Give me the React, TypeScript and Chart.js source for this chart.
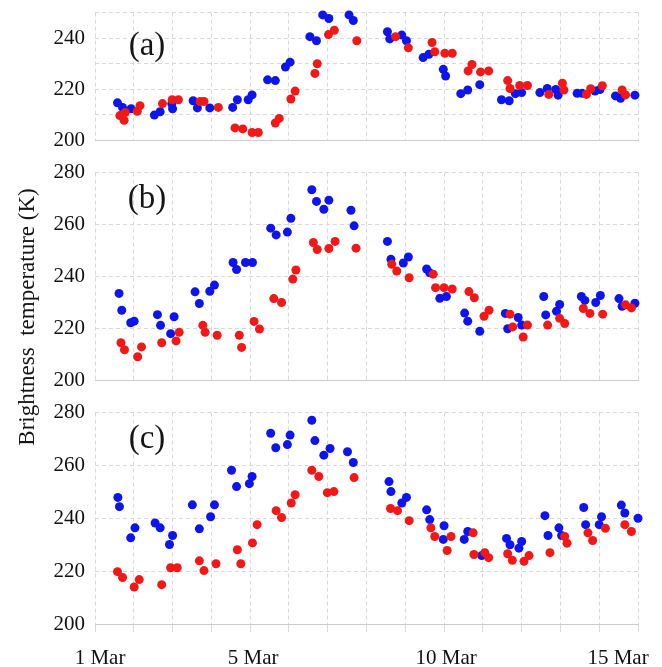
import React, { useEffect, useRef } from 'react';
import { Chart, registerables } from 'chart.js';

Chart.register(...registerables);

// ---------- data (day of March, brightness temperature K) ----------
const blueDaysA = [1.58, 1.71, 1.93, 2.53, 2.68, 2.98, 3.0, 3.53, 3.64, 3.96, 4.55, 4.67, 4.95, 5.05, 5.45, 5.65, 5.91, 6.03, 6.54, 6.71, 6.87, 7.03, 7.55, 7.66, 8.54, 8.6, 8.91, 9.03, 9.46, 9.61, 9.98, 10.04, 10.43, 10.61, 10.92, 11.48, 11.68, 11.84, 12.0, 12.47, 12.66, 12.88, 12.94, 13.43, 13.56, 13.89, 14.02, 14.42, 14.55, 14.92];
const blueTbA = [214.7, 212.9, 212.4, 209.9, 211.2, 214.3, 212.4, 215.5, 212.7, 212.7, 212.9, 215.9, 215.9, 217.8, 223.7, 223.4, 228.7, 230.6, 240.6, 239.0, 249.1, 247.7, 249.1, 246.9, 242.5, 239.7, 241.2, 239.0, 232.4, 233.7, 227.8, 225.2, 218.3, 219.7, 221.8, 215.9, 215.5, 218.3, 218.7, 218.7, 220.3, 219.9, 217.7, 218.4, 218.4, 219.3, 219.9, 217.4, 216.5, 217.7];
const redDaysA = [1.64, 1.75, 1.78, 2.09, 2.16, 2.74, 2.99, 3.15, 3.71, 3.81, 4.18, 4.61, 4.81, 5.05, 5.21, 5.65, 5.75, 6.05, 6.16, 6.67, 6.73, 7.02, 7.17, 7.75, 8.75, 9.08, 9.69, 9.76, 10.02, 10.21, 10.62, 10.72, 10.94, 11.15, 11.64, 11.7, 11.95, 12.15, 12.7, 13.05, 13.09, 13.67, 13.78, 14.08, 14.59, 14.68];
const redTbA = [209.7, 207.9, 210.9, 211.4, 213.6, 214.4, 215.9, 215.9, 215.2, 215.2, 212.9, 204.9, 204.5, 203.1, 203.1, 206.8, 208.6, 216.2, 219.3, 226.2, 230.0, 241.4, 243.1, 239.0, 240.6, 236.2, 238.3, 234.7, 234.1, 234.1, 227.2, 229.7, 226.8, 227.2, 223.4, 220.3, 221.5, 221.5, 218.0, 222.4, 219.7, 218.0, 220.2, 221.4, 219.7, 217.8];

const blueDaysB = [1.62, 1.69, 1.92, 2.01, 2.61, 2.69, 2.95, 3.04, 3.58, 3.69, 3.96, 4.08, 4.56, 4.65, 4.88, 5.06, 5.53, 5.67, 5.96, 6.05, 6.59, 6.71, 6.9, 7.03, 7.6, 7.68, 8.54, 8.63, 8.95, 9.08, 9.55, 9.63, 9.89, 10.06, 10.53, 10.61, 10.92, 11.58, 11.64, 11.91, 12.0, 12.57, 12.62, 12.9, 12.98, 13.54, 13.63, 13.91, 14.03, 14.51, 14.59, 14.92];
const blueTbB = [233.5, 227.0, 222.2, 222.8, 225.3, 221.2, 218.0, 224.5, 234.1, 229.6, 234.3, 236.7, 245.4, 242.7, 245.4, 245.4, 258.6, 256.0, 257.1, 262.4, 273.4, 268.9, 265.9, 269.4, 265.5, 259.5, 253.5, 246.6, 245.2, 247.5, 242.9, 241.4, 231.6, 232.3, 225.9, 222.8, 218.9, 225.8, 219.9, 224.2, 221.3, 232.3, 225.2, 226.6, 229.2, 232.3, 230.8, 230.0, 232.7, 231.5, 228.5, 229.7];
const redDaysB = [1.67, 1.76, 2.1, 2.2, 2.72, 3.09, 3.17, 3.78, 3.84, 4.15, 4.72, 4.78, 5.1, 5.24, 5.61, 5.81, 6.1, 6.18, 6.63, 6.73, 7.03, 7.19, 7.73, 8.65, 8.78, 9.1, 9.72, 9.78, 10.0, 10.21, 10.64, 10.78, 11.03, 11.16, 11.7, 11.77, 12.04, 12.15, 12.67, 12.98, 13.11, 13.59, 13.76, 14.09, 14.68, 14.83];
const redTbB = [214.5, 211.8, 209.1, 212.9, 214.5, 215.2, 218.5, 221.2, 218.5, 217.4, 217.4, 212.7, 222.7, 219.8, 231.5, 230.0, 239.0, 242.5, 253.1, 250.4, 250.8, 253.5, 250.9, 244.7, 242.1, 239.5, 240.9, 235.7, 235.7, 235.2, 234.2, 231.8, 224.7, 227.0, 225.5, 220.6, 216.7, 221.3, 221.3, 223.9, 221.9, 227.7, 225.8, 225.5, 229.1, 227.9];

const blueDaysC = [1.59, 1.63, 1.92, 2.03, 2.55, 2.68, 2.92, 3.0, 3.51, 3.69, 3.98, 4.08, 4.52, 4.65, 4.98, 5.05, 5.53, 5.66, 5.96, 6.03, 6.59, 6.67, 6.9, 7.06, 7.51, 7.66, 8.58, 8.63, 8.91, 9.03, 9.55, 9.63, 10.0, 9.98, 10.52, 10.61, 10.97, 11.61, 11.7, 11.93, 12.0, 12.6, 12.68, 12.96, 13.03, 13.6, 13.65, 14.0, 14.06, 14.57, 14.66, 15.0];
const blueTbC = [247.9, 244.4, 232.6, 236.4, 238.2, 236.4, 230.1, 233.5, 245.1, 236.0, 240.6, 245.1, 258.2, 252.0, 253.1, 255.8, 272.2, 266.7, 267.9, 271.5, 277.1, 269.4, 263.9, 266.4, 265.2, 261.1, 253.9, 250.1, 245.8, 247.9, 243.2, 239.5, 237.2, 232.0, 232.0, 235.0, 225.9, 232.4, 230.0, 228.7, 231.2, 241.0, 233.5, 236.4, 233.5, 244.1, 237.6, 237.6, 240.6, 245.0, 242.0, 240.0];
const redDaysC = [1.58, 1.71, 2.01, 2.14, 2.72, 2.95, 3.12, 3.69, 3.81, 4.12, 4.67, 4.76, 5.06, 5.18, 5.67, 5.81, 6.06, 6.16, 6.59, 6.77, 6.99, 7.16, 7.68, 8.62, 8.8, 9.1, 9.66, 9.76, 10.08, 10.18, 10.75, 10.77, 11.05, 11.15, 11.64, 11.76, 12.06, 12.19, 12.73, 13.11, 13.17, 13.71, 13.83, 14.16, 14.66, 14.83];
const redTbC = [219.8, 217.6, 214.0, 216.8, 214.9, 221.3, 221.3, 223.9, 220.2, 222.8, 228.1, 222.8, 230.7, 237.6, 242.9, 240.3, 245.8, 248.9, 258.2, 255.8, 249.7, 250.1, 255.4, 243.7, 242.9, 239.1, 236.4, 233.1, 227.8, 233.1, 234.5, 226.3, 227.0, 225.1, 226.6, 224.1, 223.7, 225.9, 227.0, 233.1, 230.6, 234.5, 231.6, 236.2, 237.6, 235.0];

const dateTicks = [1, 5, 10, 15];
const dateLabels = ['1 Mar', '5 Mar', '10 Mar', '15 Mar'];
const yTitle = 'Brightness  temperature (K)';

// ---------- styles ----------
const FONT = '"Liberation Serif", "Times New Roman", Times, serif';
const GRID = '#d9d9d9';
const AXIS = '#cccccc';
const BLUE = 'rgb(14,20,236)';
const RED = 'rgb(242,24,24)';
const labelShift = [5, 3, 2, -20];

type Spec = {
  tag: string;
  bx: number[]; by: number[]; rx: number[]; ry: number[];
  yMin: number; yMax: number; yStep: number; yLabelStep: number;
  top: number; height: number; xHeight: number; showX: boolean; tagDy: number;
};

const pts = (xs: number[], ys: number[]) => xs.map((x, i) => ({ x, y: ys[i] }));

function Panel({ spec }: { spec: Spec }) {
  const ref = useRef<HTMLCanvasElement>(null);
  useEffect(() => {
    const canvas = ref.current!;
    const tagPlugin = {
      id: 'panelTag',
      afterDraw(chart: any) {
        const { ctx, chartArea } = chart;
        ctx.save();
        ctx.font = `33px ${FONT}`;
        ctx.fillStyle = '#151515';
        ctx.textAlign = 'center';
        ctx.textBaseline = 'middle';
        ctx.fillText(spec.tag, chartArea.left + 52, chartArea.top + spec.tagDy);
        ctx.restore();
      },
    };
    const shiftPlugin = {
      id: 'shiftLabels',
      beforeDraw(chart: any) {
        if (!spec.showX) return;
        try {
          const sc: any = chart.scales.x;
          const items = sc.getLabelItems(chart.chartArea);
          items.forEach((it: any) => {
            if (it._shifted) return;
            const idx = dateLabels.indexOf(it.label);
            if (idx >= 0 && it.options && it.options.translation) {
              it.options.translation[0] += labelShift[idx];
              it._shifted = true;
            }
          });
        } catch (e) {
          /* ignore */
        }
      },
    };
    const chart = new Chart(canvas, {
      type: 'scatter',
      data: {
        datasets: [
          { data: pts(spec.rx, spec.ry), backgroundColor: RED, borderWidth: 0, pointRadius: 4.5, clip: 8 } as any,
          { data: pts(spec.bx, spec.by), backgroundColor: BLUE, borderWidth: 0, pointRadius: 4.5, clip: 8 } as any,
        ],
      },
      options: {
        responsive: false,
        animation: false,
        events: [],
        layout: { padding: { left: 0, right: 62, top: 20, bottom: 0 } },
        plugins: { legend: { display: false }, tooltip: { enabled: false }, title: { display: false } },
        scales: {
          x: {
            type: 'linear',
            min: 1,
            max: 15,
            afterFit: (s: any) => { s.height = spec.xHeight; },
            ticks: {
              display: spec.showX,
              stepSize: 1,
              autoSkip: false,
              maxRotation: 0,
              padding: 14,
              color: '#111',
              font: { family: FONT, size: 21 },
              callback: (v: any) => {
                const i = dateTicks.indexOf(Number(v));
                return i >= 0 ? dateLabels[i] : '';
              },
            },
            grid: { color: GRID, lineWidth: 1, drawTicks: spec.showX, tickLength: 8, tickColor: GRID },
            border: { display: true, color: AXIS, width: 1, dash: [4, 3] },
          },
          y: {
            type: 'linear',
            min: spec.yMin,
            max: spec.yMax,
            afterFit: (s: any) => { s.width = 95; },
            ticks: {
              stepSize: spec.yStep,
              padding: 10,
              color: '#111',
              font: { family: FONT, size: 21 },
              callback: (v: any) => (Number(v) % spec.yLabelStep === 0 ? String(v) : ''),
            },
            grid: { color: GRID, lineWidth: 1, drawTicks: false },
            border: { display: false, dash: [4, 3] },
          },
        },
      } as any,
      plugins: [tagPlugin, shiftPlugin],
    });
    return () => chart.destroy();
  }, [spec]);
  return (
    <canvas
      ref={ref}
      width={700}
      height={spec.height}
      style={{ position: 'absolute', left: 0, top: spec.top, width: 700, height: spec.height }}
    />
  );
}

const specA: Spec = { tag: '(a)', bx: blueDaysA, by: blueTbA, rx: redDaysA, ry: redTbA, yMin: 200, yMax: 250, yStep: 10, yLabelStep: 20, top: -10, height: 173, xHeight: 20, showX: false, tagDy: 34 };
const specB: Spec = { tag: '(b)', bx: blueDaysB, by: blueTbB, rx: redDaysB, ry: redTbB, yMin: 200, yMax: 280, yStep: 20, yLabelStep: 20, top: 150, height: 253, xHeight: 20, showX: false, tagDy: 27 };
const specC: Spec = { tag: '(c)', bx: blueDaysC, by: blueTbC, rx: redDaysC, ry: redTbC, yMin: 200, yMax: 280, yStep: 20, yLabelStep: 20, top: 390, height: 277, xHeight: 43, showX: true, tagDy: 27 };

export default function App() {
  return (
    <div
      style={{ position: 'fixed', left: 0, top: 0, width: 662, height: 667, overflow: 'hidden', background: '#ffffff' }}
    >
      <Panel spec={specA} />
      <Panel spec={specB} />
      <Panel spec={specC} />
      <div
        style={{
          position: 'absolute',
          left: 27 - 200,
          top: 317 - 15,
          width: 400,
          height: 30,
          lineHeight: '30px',
          textAlign: 'center',
          transform: 'rotate(-90deg)',
          fontFamily: FONT,
          fontSize: 23,
          color: '#151515',
          whiteSpace: 'pre',
        }}
      >
        {yTitle}
      </div>
    </div>
  );
}
